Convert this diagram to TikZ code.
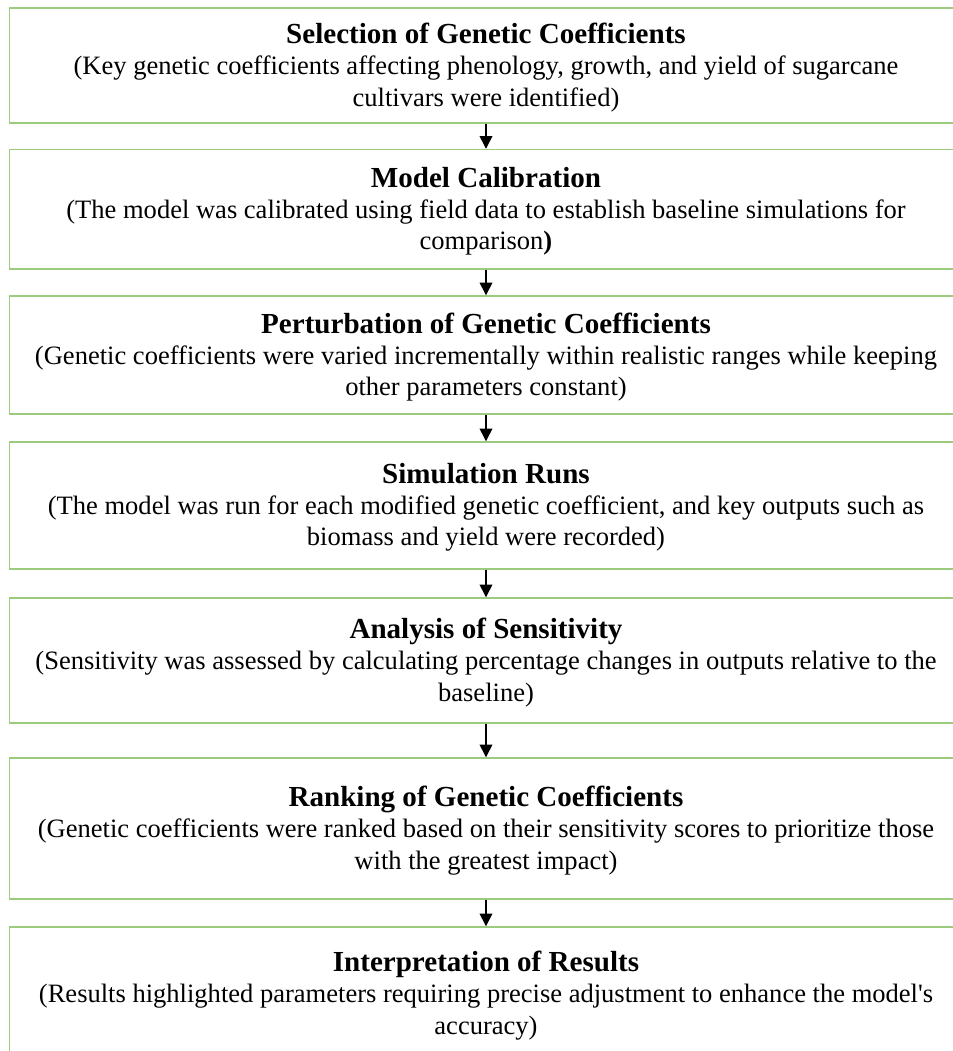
\documentclass[tikz,border=0pt]{standalone}
\usepackage{fontspec}
\setmainfont{Liberation Serif}
\usetikzlibrary{arrows.meta}
\definecolor{boxgreen}{RGB}{156,203,128}
\tikzset{
  stepbox/.style={draw=boxgreen, line width=1.1pt, minimum width=714.75pt, inner sep=0pt},
  steptext/.style={align=center, inner sep=0pt, font=\fontsize{19.9pt}{23.4pt}\selectfont},
  steparrow/.style={line width=1.1pt, -{Triangle[width=9.5pt,length=9.5pt]}}
}
\newcommand{\steptitle}[1]{{\bfseries\fontsize{21.8pt}{23.4pt}\selectfont #1}}
% #1 name, #2 top, #3 bottom, #4 title, #5 text
\newcommand{\stepnode}[5]{%
  \node[stepbox, minimum height={(#3-#2)*0.75pt}] (b#1) at (486,{(#2+#3)/2}) {};
  \node[steptext] (t#1) at ([yshift=-1.5pt]b#1.center) {\steptitle{#4}\\#5};
}
\begin{document}
\begin{tikzpicture}[x=0.75pt,y=-0.75pt]
  \useasboundingbox (0,0) rectangle (953,1051);
  \stepnode{1}{8}{123}{Selection of Genetic Coefficients}
    {(Key genetic coefficients affecting phenology, growth, and yield of sugarcane\\cultivars were identified)}
  \stepnode{2}{149.5}{269}{Model Calibration}
    {(The model was calibrated using field data to establish baseline simulations for\\comparison\textbf{)}}
  \stepnode{3}{296}{414}{Perturbation of Genetic Coefficients}
    {(Genetic coefficients were varied incrementally within realistic ranges while keeping\\other parameters constant)}
  \stepnode{4}{442}{569}{Simulation Runs}
    {(The model was run for each modified genetic coefficient, and key outputs such as\\biomass and yield were recorded)}
  \stepnode{5}{598}{723}{Analysis of Sensitivity}
    {(Sensitivity was assessed by calculating percentage changes in outputs relative to the\\baseline)}
  \stepnode{6}{758}{899}{Ranking of Genetic Coefficients}
    {(Genetic coefficients were ranked based on their sensitivity scores to prioritize those\\with the greatest impact)}
  \stepnode{7}{927}{1060}{Interpretation of Results}
    {(Results highlighted parameters requiring precise adjustment to enhance the model\textquotesingle s\\accuracy)}
  \foreach \i/\j in {1/2,2/3,3/4,4/5,5/6,6/7}
    \draw[steparrow] (b\i.south) -- (b\j.north);
\end{tikzpicture}
\end{document}
